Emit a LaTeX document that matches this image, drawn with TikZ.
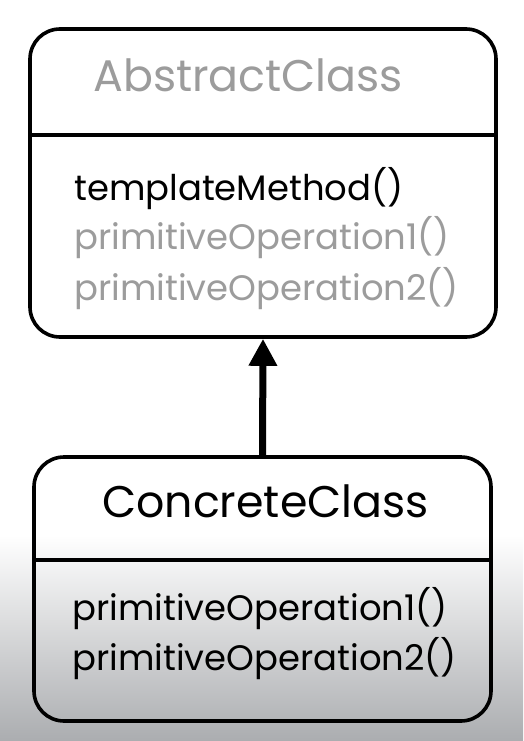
\documentclass[tikz,border=0pt]{standalone}
\usepackage{fontspec}
\setmainfont{Poppins}
\usepackage{xcolor}
\definecolor{ink}{HTML}{000000}
\definecolor{fade}{HTML}{9C9C9C}
\definecolor{shadow}{HTML}{ABADB0}
\usetikzlibrary{arrows.meta,positioning,calc,backgrounds}
\tikzset{
  >={Triangle[length=27pt,width=27pt]},
  classbox/.style={draw=ink,line width=3.6pt,rounded corners=30pt,
                   inner sep=0pt},
  divider/.style ={draw=ink,line width=3.6pt},
  title/.style   ={font=\fontsize{44.3}{50}\selectfont,inner sep=0pt,anchor=base west},
  method/.style  ={font=\fontsize{35.4}{40}\selectfont,inner sep=0pt,anchor=base west},
  inherit/.style ={->,draw=ink,line width=7pt},
}

\begin{document}
\begin{tikzpicture}[x=1pt,y=-1pt]
% background, fading to grey at the foot
\fill[white] (0,0) rectangle (523,741);
\shade[top color=white,bottom color=shadow] (0,535) rectangle (523,741);
\useasboundingbox (0,0) rectangle (523,741);
% classes
\node[classbox,minimum width=466pt,minimum height=308pt] (abs) at (263,183) {};
\node[classbox,minimum width=457pt,minimum height=264pt] (conc) at (262.5,589) {};
\draw[divider] (abs.west |- 0,135) -- (abs.east |- 0,135);
\draw[divider] (conc.west |- 0,560) -- (conc.east |- 0,560);
% texts
\node[title,text=fade] (absname) at (93,92) {AbstractClass};
\node[method] (tm) at (74,200) {templateMethod()};
\node[method,text=fade] (absop1) at (74,249) {primitiveOperation1()};
\node[method,text=fade] (absop2) at (74,300) {primitiveOperation2()};
\node[title] (concname) at (102,517) {ConcreteClass};
\node[method] (concop1) at (72,620) {primitiveOperation1()};
\node[method] (concop2) at (72,670) {primitiveOperation2()};
% inheritance
\draw[inherit] (conc.north) -- (abs.south);
\end{tikzpicture}
\end{document}
